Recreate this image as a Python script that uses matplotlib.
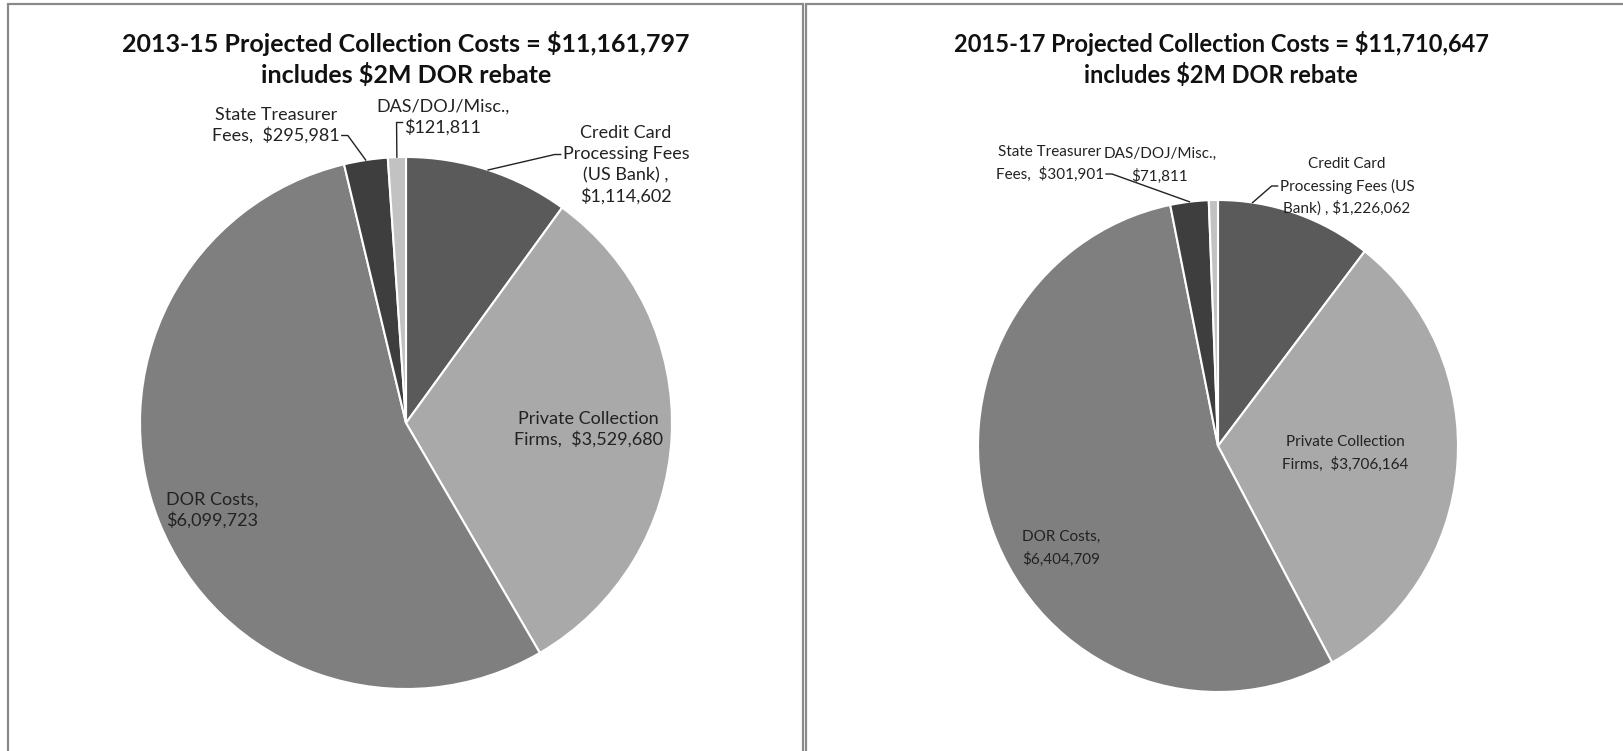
import numpy as np
import matplotlib.pyplot as plt
from matplotlib.patches import Rectangle

W, H = 1623, 751

categories = ["Credit Card Processing Fees (US Bank)", "Private Collection Firms",
              "DOR Costs", "State Treasurer Fees", "DAS/DOJ/Misc."]
costs_1315 = [1114602, 3529680, 6099723, 295981, 121811]
costs_1517 = [1226062, 3706164, 6404709, 301901, 71811]
colors = ["#5a5a5a", "#a9a9a9", "#7f7f7f", "#3e3e3e", "#c2c2c2"]

titles = ["2013-15 Projected Collection Costs = $11,161,797\nincludes $2M DOR rebate",
          "2015-17 Projected Collection Costs = $11,710,647\nincludes $2M DOR rebate"]

labels_1315 = ["Credit Card\nProcessing Fees\n(US Bank) ,\n$1,114,602",
               "Private Collection\nFirms,  $3,529,680",
               "DOR Costs,\n$6,099,723",
               "State Treasurer\nFees,  $295,981",
               "DAS/DOJ/Misc.,\n$121,811"]
labels_1517 = ["Credit Card\nProcessing Fees (US\nBank) , $1,226,062",
               "Private Collection\nFirms,  $3,706,164",
               "DOR Costs,\n$6,404,709",
               "State Treasurer\nFees,  $301,901",
               "DAS/DOJ/Misc.,\n$71,811"]

plt.rcParams['font.family'] = ['Lato', 'DejaVu Sans']

fig = plt.figure(figsize=(W / 100, H / 100), dpi=100)
renderer = fig.canvas.get_renderer()


def px(x, y):
    # pixel position (from top-left) -> figure fraction
    return x / W, 1 - y / H


def rect(x0, y0, x1, y1):
    return [x0 / W, 1 - y1 / H, (x1 - x0) / W, (y1 - y0) / H]


def label(text, cx, cy, lh, size):
    # centred multi-line label, one text per line; returns line extents in pixels
    lines = text.split("\n")
    boxes = []
    for i, line in enumerate(lines):
        y = cy + (i - (len(lines) - 1) / 2) * lh
        t = fig.text(*px(cx, y), line, ha="center", va="center", fontsize=size,
                     color="#222222")
        bb = t.get_window_extent(renderer)
        boxes.append((bb.x0, bb.x1, H - y))
    return boxes


# panel frames
for x0, x1 in [(8, 803), (806, 1640)]:
    fig.patches.append(Rectangle(px(x0, 760), (x1 - x0) / W, (760 - 4) / H,
                                 transform=fig.transFigure, fill=False,
                                 edgecolor="#8a8a8a", linewidth=1.6))

# lead: (line of the label, side it leaves from, vertical nudge, place on the
# wedge arc: 0 = clockwise end, 1 = start)
panels = [
    dict(vals=costs_1315, labels=labels_1315, title=titles[0], tx=406,
         tsize=18, lsize=13, lh=21,
         box=rect(140, 157, 672, 689),
         pos=[(626, 165), (588, 429), (212, 510), (276, 125), (443, 117)],
         lead=[(1, "left", 0, 0.5), None, None,
               (1, "right", 0, 0.5), (1, "left", 5, 0.5)]),
    dict(vals=costs_1517, labels=labels_1517, title=titles[1], tx=1221,
         tsize=17, lsize=11, lh=22,
         box=rect(978, 200, 1458, 692),
         pos=[(1347, 186), (1345, 453), (1061, 548), (1050, 163), (1160, 165)],
         lead=[(1, "left", 0, 0.78), None, None,
               (1, "right", 0, 0.5), None]),
]

for p in panels:
    fig.text(*px(p["tx"], 59), p["title"], ha="center", va="center",
             fontsize=p["tsize"], fontweight="bold", linespacing=1.3, color="#111111")
    ax = fig.add_axes(p["box"])
    wedges, _ = ax.pie(p["vals"], colors=colors, startangle=90, counterclock=False,
                       wedgeprops=dict(edgecolor="white", linewidth=1.5))
    ax.set_xlim(-1, 1)
    ax.set_ylim(-1, 1)
    ax.set_aspect("auto")
    ax.axis("off")
    for w, lab, (lx, ly), lead in zip(wedges, p["labels"], p["pos"], p["lead"]):
        boxes = label(lab, lx, ly, p["lh"], p["lsize"])
        if lead is None:
            continue
        # leader from the label to the outer edge of its wedge
        li, side, dy, frac = lead
        x0, x1, yl = boxes[li]
        yl += dy
        if side == "left":
            start = [(x0 - 2, yl), (x0 - 8, yl)]
        else:
            start = [(x1 + 2, yl), (x1 + 8, yl)]
        ang = np.deg2rad(w.theta1 + frac * (w.theta2 - w.theta1))
        edge = ax.transData.transform((np.cos(ang), np.sin(ang)))
        pts = fig.transFigure.inverted().transform(np.array(start + [tuple(edge)]))
        fig.add_artist(plt.Line2D(pts[:, 0], pts[:, 1], transform=fig.transFigure,
                                  color="#222222", linewidth=1))

fig.savefig("out.png", dpi=100, facecolor="white")
